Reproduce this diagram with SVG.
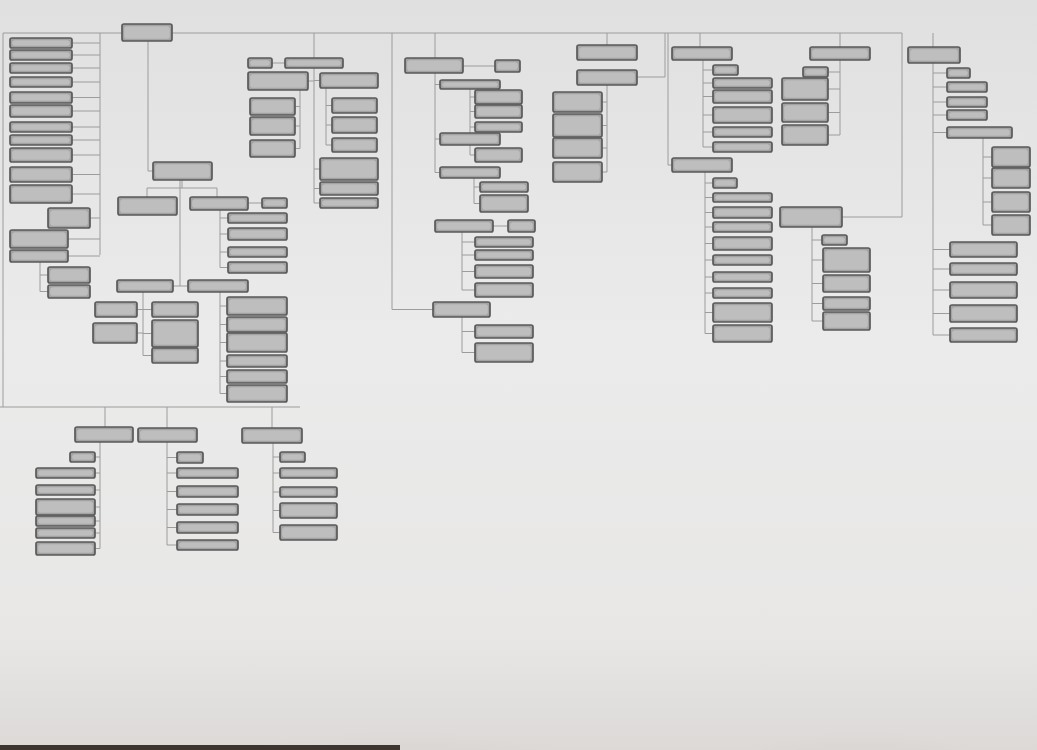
<svg xmlns="http://www.w3.org/2000/svg" width="1037" height="750" viewBox="0 0 1037 750">
<defs>
<linearGradient id="bg" x1="0" y1="0" x2="0" y2="1">
<stop offset="0" stop-color="#e0e0e0"/>
<stop offset="0.45" stop-color="#ebebeb"/>
<stop offset="0.85" stop-color="#e8e7e6"/>
<stop offset="1" stop-color="#dcd9d7"/>
</linearGradient>
<radialGradient id="sh1" cx="0.5" cy="1" r="0.6">
<stop offset="0" stop-color="#cdc9c6" stop-opacity="0.9"/>
<stop offset="1" stop-color="#cdc9c6" stop-opacity="0"/>
</radialGradient>
<filter id="inner" x="-5%" y="-10%" width="110%" height="120%">
<feMorphology in="SourceAlpha" operator="erode" radius="3" result="er"/>
<feFlood flood-color="#c6c6c6" flood-opacity="0.75"/>
<feComposite operator="in" in2="er" result="hl"/>
<feMerge><feMergeNode in="SourceGraphic"/><feMergeNode in="hl"/></feMerge>
</filter>
<style>
.b{fill:#a3a3a3;stroke:#5a5a5a;stroke-width:1.7;filter:url(#inner)}
.c{fill:none;stroke:#9c9c9c;stroke-width:1}
</style>
</defs>
<rect x="0" y="0" width="1037" height="750" fill="url(#bg)"/>
<ellipse cx="400" cy="750" rx="240" ry="100" fill="url(#sh1)"/>
<ellipse cx="860" cy="750" rx="170" ry="100" fill="url(#sh1)"/>
<rect x="0" y="745" width="400" height="5" fill="#3e3430"/>

<g id="connectors" class="c">
<path d="M3 33H902"/>
<path d="M3 33V407M0 407H300M105 407V427M167 407V428M272 407V428"/>
<path d="M100 33V255M72 43H100M72 55H100M72 68H100M72 82H100M72 97.5H100M72 111H100M72 127H100M72 140H100M72 155H100M72 174.5H100M72 194H100M90 218H100M68 239H100M68 256H100"/>
<path d="M40 262V291.5M40 275H48M40 291.5H48"/>
<path d="M100 442V548.5M95 457H100M95 473H100M95 490H100M95 507H100M95 521H100M95 533H100M95 548.5H100"/>
<path d="M167 442V545M167 457.5H177M167 473H177M167 491.5H177M167 509.5H177M167 527.5H177M167 545H177"/>
<path d="M273 443V532.5M273 457H280M273 473H280M273 492H280M273 510.5H280M273 532.5H280"/>
<path d="M148 41V171H153M182 180V188M147 188H217M147 188V197M217 188V197M248 203H262"/>
<path d="M220 210V267.5M220 218H228M220 234H228M220 252H228M220 267.5H228"/>
<path d="M180 180V286M173 286H188"/>
<path d="M143 292V355.5M137 309.5H143M143 309.5H152M137 333H143M143 333.5H152M143 355.5H152"/>
<path d="M220 292V393.5M220 306H227M220 324.5H227M220 342.5H227M220 361H227M220 376.5H227M220 393.5H227"/>
<path d="M314 33V203M272 63H285M308 81H314M314 80.5H320M314 169H320M314 188.5H320M314 203H320"/>
<path d="M300 90V148.5M295 106.5H300M295 126H300M295 148.5H300"/>
<path d="M326 88V145M326 105.5H332M326 125H332M326 145H332"/>
<path d="M392 33V309.5H433M435 33V58M463 66H495"/>
<path d="M435 73V172.5M435 84.5H440M435 139H440M435 172.5H440"/>
<path d="M470 89V155M470 97H475M470 111.5H475M470 127H475M470 155H475"/>
<path d="M474 178V203.5M474 187H480M474 203.5H480"/>
<path d="M493 226H508M462 232V290M462 242H475M462 255H475M462 271.5H475M462 290H475"/>
<path d="M462 317V352.5M462 331.5H475M462 352.5H475"/>
<path d="M607 33V45M637 77H665V33"/>
<path d="M607 85V172M602 102H607M602 125.5H607M602 148H607M602 172H607"/>
<path d="M700 33V47M703 60V147M703 70H713M703 83H713M703 96.5H713M703 115H713M703 132H713M703 147H713"/>
<path d="M668 33V165H672"/>
<path d="M705 172V333.5M705 183H713M705 197.5H713M705 212.5H713M705 227H713M705 243.5H713M705 260H713M705 277H713M705 293H713M705 312.5H713M705 333.5H713"/>
<path d="M840 33V47M840 60V135M828 72H840M828 89H840M828 112.5H840M828 135H840"/>
<path d="M902 33V217H842"/>
<path d="M812 227V321M812 240H822M812 260H823M812 283.5H823M812 303.5H823M812 321H823"/>
<path d="M933 33V47M933 63V335M933 73H947M933 87H947M933 102H947M933 115H947M933 132.5H947M933 249.5H950M933 269H950M933 290H950M933 313.5H950M933 335H950"/>
<path d="M983 138V225M983 157H992M983 178H992M983 202H992M983 225H992"/>
</g>

<g id="root"><rect class="b" x="122" y="24" width="50" height="17" rx="2"/></g>

<g id="left-col">
<g id="l1"><rect class="b" x="10" y="38" width="62" height="10" rx="2"/></g>
<g id="l2"><rect class="b" x="10" y="50" width="62" height="10" rx="2"/></g>
<g id="l3"><rect class="b" x="10" y="63" width="62" height="10" rx="2"/></g>
<g id="l4"><rect class="b" x="10" y="77" width="62" height="10" rx="2"/></g>
<g id="l5"><rect class="b" x="10" y="92" width="62" height="11" rx="2"/></g>
<g id="l6"><rect class="b" x="10" y="105" width="62" height="12" rx="2"/></g>
<g id="l7"><rect class="b" x="10" y="122" width="62" height="10" rx="2"/></g>
<g id="l8"><rect class="b" x="10" y="135" width="62" height="10" rx="2"/></g>
<g id="l9"><rect class="b" x="10" y="148" width="62" height="14" rx="2"/></g>
<g id="l10"><rect class="b" x="10" y="167" width="62" height="15" rx="2"/></g>
<g id="l11"><rect class="b" x="10" y="185" width="62" height="18" rx="2"/></g>
<g id="l12"><rect class="b" x="48" y="208" width="42" height="20" rx="2"/></g>
<g id="l13"><rect class="b" x="10" y="230" width="58" height="18" rx="2"/></g>
<g id="l14"><rect class="b" x="10" y="250" width="58" height="12" rx="2"/></g>
<g id="l15"><rect class="b" x="48" y="267" width="42" height="16" rx="2"/></g>
<g id="l16"><rect class="b" x="48" y="285" width="42" height="13" rx="2"/></g>
</g>

<g id="midleft">
<g id="m0"><rect class="b" x="153" y="162" width="59" height="18" rx="2"/></g>
<g id="m1"><rect class="b" x="118" y="197" width="59" height="18" rx="2"/></g>
<g id="m2"><rect class="b" x="190" y="197" width="58" height="13" rx="2"/></g>
<g id="m3"><rect class="b" x="262" y="198" width="25" height="10" rx="2"/></g>
<g id="m4"><rect class="b" x="228" y="213" width="59" height="10" rx="2"/></g>
<g id="m5"><rect class="b" x="228" y="228" width="59" height="12" rx="2"/></g>
<g id="m6"><rect class="b" x="228" y="247" width="59" height="10" rx="2"/></g>
<g id="m7"><rect class="b" x="228" y="262" width="59" height="11" rx="2"/></g>
<g id="m8"><rect class="b" x="117" y="280" width="56" height="12" rx="2"/></g>
<g id="m9"><rect class="b" x="188" y="280" width="60" height="12" rx="2"/></g>
<g id="m10"><rect class="b" x="95" y="302" width="42" height="15" rx="2"/></g>
<g id="m11"><rect class="b" x="152" y="302" width="46" height="15" rx="2"/></g>
<g id="m12"><rect class="b" x="93" y="323" width="44" height="20" rx="2"/></g>
<g id="m13"><rect class="b" x="152" y="320" width="46" height="27" rx="2"/></g>
<g id="m14"><rect class="b" x="152" y="348" width="46" height="15" rx="2"/></g>
<g id="m15"><rect class="b" x="227" y="297" width="60" height="18" rx="2"/></g>
<g id="m16"><rect class="b" x="227" y="317" width="60" height="15" rx="2"/></g>
<g id="m17"><rect class="b" x="227" y="333" width="60" height="19" rx="2"/></g>
<g id="m18"><rect class="b" x="227" y="355" width="60" height="12" rx="2"/></g>
<g id="m19"><rect class="b" x="227" y="370" width="60" height="13" rx="2"/></g>
<g id="m20"><rect class="b" x="227" y="385" width="60" height="17" rx="2"/></g>
</g>

<g id="bottom">
<g id="b1"><rect class="b" x="75" y="427" width="58" height="15" rx="2"/></g>
<g id="b2"><rect class="b" x="138" y="428" width="59" height="14" rx="2"/></g>
<g id="b3"><rect class="b" x="242" y="428" width="60" height="15" rx="2"/></g>
<g id="b4"><rect class="b" x="70" y="452" width="25" height="10" rx="2"/></g>
<g id="b5"><rect class="b" x="36" y="468" width="59" height="10" rx="2"/></g>
<g id="b6"><rect class="b" x="36" y="485" width="59" height="10" rx="2"/></g>
<g id="b7"><rect class="b" x="36" y="499" width="59" height="16" rx="2"/></g>
<g id="b8"><rect class="b" x="36" y="516" width="59" height="10" rx="2"/></g>
<g id="b9"><rect class="b" x="36" y="528" width="59" height="10" rx="2"/></g>
<g id="b10"><rect class="b" x="36" y="542" width="59" height="13" rx="2"/></g>
<g id="b11"><rect class="b" x="177" y="452" width="26" height="11" rx="2"/></g>
<g id="b12"><rect class="b" x="177" y="468" width="61" height="10" rx="2"/></g>
<g id="b13"><rect class="b" x="177" y="486" width="61" height="11" rx="2"/></g>
<g id="b14"><rect class="b" x="177" y="504" width="61" height="11" rx="2"/></g>
<g id="b15"><rect class="b" x="177" y="522" width="61" height="11" rx="2"/></g>
<g id="b16"><rect class="b" x="177" y="540" width="61" height="10" rx="2"/></g>
<g id="b17"><rect class="b" x="280" y="452" width="25" height="10" rx="2"/></g>
<g id="b18"><rect class="b" x="280" y="468" width="57" height="10" rx="2"/></g>
<g id="b19"><rect class="b" x="280" y="487" width="57" height="10" rx="2"/></g>
<g id="b20"><rect class="b" x="280" y="503" width="57" height="15" rx="2"/></g>
<g id="b21"><rect class="b" x="280" y="525" width="57" height="15" rx="2"/></g>
</g>

<g id="sec3">
<g id="s3a"><rect class="b" x="248" y="58" width="24" height="10" rx="2"/></g>
<g id="s3b"><rect class="b" x="285" y="58" width="58" height="10" rx="2"/></g>
<g id="s3c"><rect class="b" x="248" y="72" width="60" height="18" rx="2"/></g>
<g id="s3d"><rect class="b" x="320" y="73" width="58" height="15" rx="2"/></g>
<g id="s3e"><rect class="b" x="250" y="98" width="45" height="17" rx="2"/></g>
<g id="s3f"><rect class="b" x="250" y="117" width="45" height="18" rx="2"/></g>
<g id="s3g"><rect class="b" x="250" y="140" width="45" height="17" rx="2"/></g>
<g id="s3h"><rect class="b" x="332" y="98" width="45" height="15" rx="2"/></g>
<g id="s3i"><rect class="b" x="332" y="117" width="45" height="16" rx="2"/></g>
<g id="s3j"><rect class="b" x="332" y="138" width="45" height="14" rx="2"/></g>
<g id="s3k"><rect class="b" x="320" y="158" width="58" height="22" rx="2"/></g>
<g id="s3l"><rect class="b" x="320" y="182" width="58" height="13" rx="2"/></g>
<g id="s3m"><rect class="b" x="320" y="198" width="58" height="10" rx="2"/></g>
</g>

<g id="sec4">
<g id="s4a"><rect class="b" x="405" y="58" width="58" height="15" rx="2"/></g>
<g id="s4b"><rect class="b" x="495" y="60" width="25" height="12" rx="2"/></g>
<g id="s4c"><rect class="b" x="440" y="80" width="60" height="9" rx="2"/></g>
<g id="s4d"><rect class="b" x="475" y="90" width="47" height="14" rx="2"/></g>
<g id="s4e"><rect class="b" x="475" y="105" width="47" height="13" rx="2"/></g>
<g id="s4f"><rect class="b" x="475" y="122" width="47" height="10" rx="2"/></g>
<g id="s4g"><rect class="b" x="440" y="133" width="60" height="12" rx="2"/></g>
<g id="s4h"><rect class="b" x="475" y="148" width="47" height="14" rx="2"/></g>
<g id="s4i"><rect class="b" x="440" y="167" width="60" height="11" rx="2"/></g>
<g id="s4j"><rect class="b" x="480" y="182" width="48" height="10" rx="2"/></g>
<g id="s4k"><rect class="b" x="480" y="195" width="48" height="17" rx="2"/></g>
<g id="s4l"><rect class="b" x="435" y="220" width="58" height="12" rx="2"/></g>
<g id="s4m"><rect class="b" x="508" y="220" width="27" height="12" rx="2"/></g>
<g id="s4n"><rect class="b" x="475" y="237" width="58" height="10" rx="2"/></g>
<g id="s4o"><rect class="b" x="475" y="250" width="58" height="10" rx="2"/></g>
<g id="s4p"><rect class="b" x="475" y="265" width="58" height="13" rx="2"/></g>
<g id="s4q"><rect class="b" x="475" y="283" width="58" height="14" rx="2"/></g>
<g id="s4r"><rect class="b" x="433" y="302" width="57" height="15" rx="2"/></g>
<g id="s4s"><rect class="b" x="475" y="325" width="58" height="13" rx="2"/></g>
<g id="s4t"><rect class="b" x="475" y="343" width="58" height="19" rx="2"/></g>
</g>

<g id="sec5">
<g id="s5a"><rect class="b" x="577" y="45" width="60" height="15" rx="2"/></g>
<g id="s5b"><rect class="b" x="577" y="70" width="60" height="15" rx="2"/></g>
<g id="s5c"><rect class="b" x="553" y="92" width="49" height="20" rx="2"/></g>
<g id="s5d"><rect class="b" x="553" y="114" width="49" height="23" rx="2"/></g>
<g id="s5e"><rect class="b" x="553" y="138" width="49" height="20" rx="2"/></g>
<g id="s5f"><rect class="b" x="553" y="162" width="49" height="20" rx="2"/></g>
</g>

<g id="sec6">
<g id="s6a"><rect class="b" x="672" y="47" width="60" height="13" rx="2"/></g>
<g id="s6b"><rect class="b" x="713" y="65" width="25" height="10" rx="2"/></g>
<g id="s6c"><rect class="b" x="713" y="78" width="59" height="10" rx="2"/></g>
<g id="s6d"><rect class="b" x="713" y="90" width="59" height="13" rx="2"/></g>
<g id="s6e"><rect class="b" x="713" y="107" width="59" height="16" rx="2"/></g>
<g id="s6f"><rect class="b" x="713" y="127" width="59" height="10" rx="2"/></g>
<g id="s6g"><rect class="b" x="713" y="142" width="59" height="10" rx="2"/></g>
<g id="s6h"><rect class="b" x="672" y="158" width="60" height="14" rx="2"/></g>
<g id="s6i"><rect class="b" x="713" y="178" width="24" height="10" rx="2"/></g>
<g id="s6j"><rect class="b" x="713" y="193" width="59" height="9" rx="2"/></g>
<g id="s6k"><rect class="b" x="713" y="207" width="59" height="11" rx="2"/></g>
<g id="s6l"><rect class="b" x="713" y="222" width="59" height="10" rx="2"/></g>
<g id="s6m"><rect class="b" x="713" y="237" width="59" height="13" rx="2"/></g>
<g id="s6n"><rect class="b" x="713" y="255" width="59" height="10" rx="2"/></g>
<g id="s6o"><rect class="b" x="713" y="272" width="59" height="10" rx="2"/></g>
<g id="s6p"><rect class="b" x="713" y="288" width="59" height="10" rx="2"/></g>
<g id="s6q"><rect class="b" x="713" y="303" width="59" height="19" rx="2"/></g>
<g id="s6r"><rect class="b" x="713" y="325" width="59" height="17" rx="2"/></g>
</g>

<g id="sec7">
<g id="s7a"><rect class="b" x="810" y="47" width="60" height="13" rx="2"/></g>
<g id="s7b"><rect class="b" x="803" y="67" width="25" height="10" rx="2"/></g>
<g id="s7c"><rect class="b" x="782" y="78" width="46" height="22" rx="2"/></g>
<g id="s7d"><rect class="b" x="782" y="103" width="46" height="19" rx="2"/></g>
<g id="s7e"><rect class="b" x="782" y="125" width="46" height="20" rx="2"/></g>
<g id="s7f"><rect class="b" x="780" y="207" width="62" height="20" rx="2"/></g>
<g id="s7g"><rect class="b" x="822" y="235" width="25" height="10" rx="2"/></g>
<g id="s7h"><rect class="b" x="823" y="248" width="47" height="24" rx="2"/></g>
<g id="s7i"><rect class="b" x="823" y="275" width="47" height="17" rx="2"/></g>
<g id="s7j"><rect class="b" x="823" y="297" width="47" height="13" rx="2"/></g>
<g id="s7k"><rect class="b" x="823" y="312" width="47" height="18" rx="2"/></g>
</g>

<g id="sec8">
<g id="s8a"><rect class="b" x="908" y="47" width="52" height="16" rx="2"/></g>
<g id="s8b"><rect class="b" x="947" y="68" width="23" height="10" rx="2"/></g>
<g id="s8c"><rect class="b" x="947" y="82" width="40" height="10" rx="2"/></g>
<g id="s8d"><rect class="b" x="947" y="97" width="40" height="10" rx="2"/></g>
<g id="s8e"><rect class="b" x="947" y="110" width="40" height="10" rx="2"/></g>
<g id="s8f"><rect class="b" x="947" y="127" width="65" height="11" rx="2"/></g>
<g id="s8g"><rect class="b" x="992" y="147" width="38" height="20" rx="2"/></g>
<g id="s8h"><rect class="b" x="992" y="168" width="38" height="20" rx="2"/></g>
<g id="s8i"><rect class="b" x="992" y="192" width="38" height="20" rx="2"/></g>
<g id="s8j"><rect class="b" x="992" y="215" width="38" height="20" rx="2"/></g>
<g id="s8k"><rect class="b" x="950" y="242" width="67" height="15" rx="2"/></g>
<g id="s8l"><rect class="b" x="950" y="263" width="67" height="12" rx="2"/></g>
<g id="s8m"><rect class="b" x="950" y="282" width="67" height="16" rx="2"/></g>
<g id="s8n"><rect class="b" x="950" y="305" width="67" height="17" rx="2"/></g>
<g id="s8o"><rect class="b" x="950" y="328" width="67" height="14" rx="2"/></g>
</g>
</svg>
